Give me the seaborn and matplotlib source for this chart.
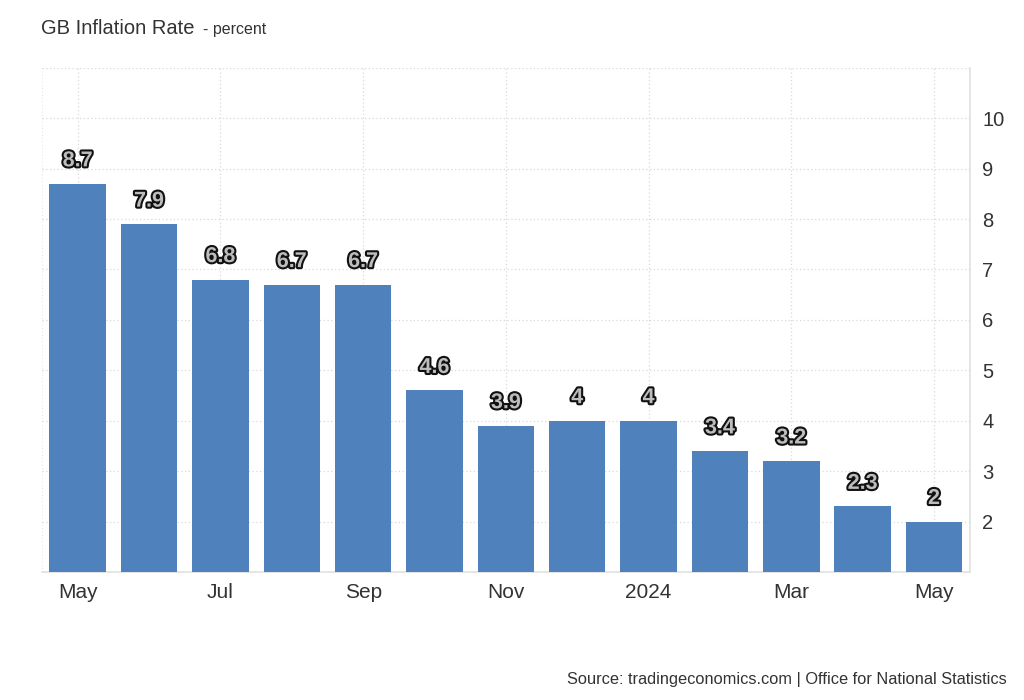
import pandas as pd
import matplotlib.pyplot as plt
import matplotlib.patheffects as pe
import seaborn as sns

# monthly CPI inflation, May 2023 - May 2024
months = ['2023-05', '2023-06', '2023-07', '2023-08', '2023-09', '2023-10', '2023-11',
          '2023-12', '2024-01', '2024-02', '2024-03', '2024-04', '2024-05']
rates = [8.7, 7.9, 6.8, 6.7, 6.7, 4.6, 3.9, 4.0, 4.0, 3.4, 3.2, 2.3, 2.0]
tick_labels = ['May', 'Jul', 'Sep', 'Nov', '2024', 'Mar', 'May']
y_ticks = [2, 3, 4, 5, 6, 7, 8, 9, 10]

df = pd.DataFrame({'month': months, 'rate': rates})

sns.set_theme(style='white')
plt.rcParams['font.family'] = ['Liberation Sans', 'DejaVu Sans']

fig = plt.figure(figsize=(10.24, 7), dpi=100)
ax = fig.add_axes([0.041, 0.183, 0.906, 0.72])

sns.barplot(data=df, x='month', y='rate', color='#4f81bd', saturation=1,
            width=0.79, linewidth=0, ax=ax, zorder=3)

ax.set_ylim(1, 11)
ax.set_xlim(-0.5, len(months) - 0.5)

# grid
ax.set_yticks(y_ticks + [11])
ax.set_yticklabels([str(v) for v in y_ticks] + [''])
ax.set_xticks(range(0, len(months), 2))
ax.set_xticklabels(tick_labels)
ax.grid(True, color='#d9d9d9', linestyle=(0, (1, 2)), linewidth=0.9, zorder=0)

ax.yaxis.tick_right()
ax.tick_params(axis='y', length=0, pad=9, labelsize=14.5, labelcolor='#333333')
ax.tick_params(axis='x', length=0, pad=8, labelsize=15, labelcolor='#333333')
ax.set_xlabel('')
ax.set_ylabel('')

for side in ['top', 'left']:
    ax.spines[side].set_visible(False)
ax.spines['bottom'].set_color('#e0e0e0')
ax.spines['right'].set_color('#e0e0e0')
ax.spines['bottom'].set_linewidth(1.2)
ax.spines['right'].set_linewidth(1.2)
ax.axvline(-0.5, color='#e6e6e6', linewidth=0.8, linestyle=(0, (1, 2)), zorder=0)

# value labels
for i, v in enumerate(rates):
    label = f'{v:g}'
    ax.annotate(label, (i, v), xytext=(0, 9), textcoords='offset points',
                ha='center', va='bottom', fontsize=15.5, fontweight='bold',
                color='#bdbdbd', zorder=5,
                path_effects=[pe.withStroke(linewidth=3, foreground='#111111')])

fig.text(0.04, 0.952, 'GB Inflation Rate', fontsize=14.5, color='#333333', va='baseline')
fig.text(0.198, 0.952, '- percent', fontsize=11.5, color='#333333', va='baseline')
fig.text(0.983, 0.023, 'Source: tradingeconomics.com | Office for National Statistics',
         fontsize=11.8, color='#333333', ha='right', va='baseline')

fig.savefig('out.png', dpi=100)
